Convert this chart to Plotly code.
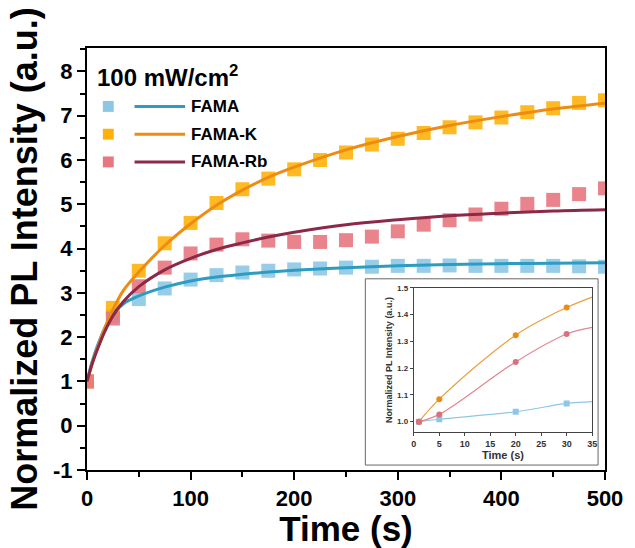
import plotly.graph_objects as go

# ---------------- data ----------------
time_s = [0, 25, 50, 75, 100, 125, 150, 175, 200, 225, 250, 275, 300, 325, 350, 375, 400, 425, 450, 475, 500]
fama = [1.0, 2.48, 2.86, 3.10, 3.30, 3.40, 3.46, 3.50, 3.53, 3.55, 3.57, 3.59, 3.61, 3.61, 3.62, 3.61, 3.61, 3.61, 3.61, 3.60, 3.59]
fama_k = [1.0, 2.66, 3.50, 4.12, 4.58, 5.03, 5.34, 5.58, 5.79, 6.00, 6.17, 6.35, 6.48, 6.61, 6.74, 6.85, 6.96, 7.08, 7.17, 7.29, 7.35]
fama_rb = [1.0, 2.42, 3.15, 3.57, 3.89, 4.09, 4.21, 4.18, 4.15, 4.15, 4.19, 4.27, 4.39, 4.54, 4.64, 4.77, 4.90, 5.01, 5.10, 5.23, 5.36]

fit_t = [0, 5, 10, 17, 25, 35, 50, 75, 100, 125, 150, 175, 200, 250, 300, 350, 400, 450, 500]
fit_fama = [1.0, 1.45, 1.80, 2.20, 2.52, 2.75, 2.93, 3.13, 3.27, 3.36, 3.42, 3.47, 3.51, 3.57, 3.61, 3.64, 3.66, 3.67, 3.68]
fit_k = [1.0, 1.40, 1.75, 2.20, 2.62, 3.05, 3.47, 4.07, 4.56, 4.98, 5.32, 5.61, 5.84, 6.23, 6.53, 6.78, 6.98, 7.15, 7.28]
fit_rb = [1.0, 1.40, 1.72, 2.12, 2.48, 2.80, 3.14, 3.52, 3.78, 3.98, 4.13, 4.26, 4.37, 4.54, 4.65, 4.74, 4.80, 4.85, 4.88]

inset_t = [1, 5, 20, 30]
inset_fama = [1.0, 1.009, 1.037, 1.068]
inset_k = [1.0, 1.084, 1.323, 1.426]
inset_rb = [1.0, 1.027, 1.223, 1.327]
inset_line_t = [1, 5, 20, 30, 35]
inset_line_fama = [1.0, 1.009, 1.037, 1.068, 1.075]
inset_line_k = [1.0, 1.084, 1.323, 1.426, 1.465]
inset_line_rb = [1.0, 1.027, 1.223, 1.327, 1.352]

names = ["FAMA", "FAMA-K", "FAMA-Rb"]
marker_colors = ["#8CC8E6", "#FFB10A", "#E8777F"]
line_colors = ["#2C9CC0", "#EE8C12", "#8C2848"]

x_ticks = [0, 100, 200, 300, 400, 500]
y_ticks = [-1, 0, 1, 2, 3, 4, 5, 6, 7, 8]
y_tick_text = ["-1", "0", "1", "2", "3", "4", "5", "6", "7", "8"]
inset_x_ticks = [0, 5, 10, 15, 20, 25, 30, 35]
inset_y_ticks = [1.0, 1.1, 1.2, 1.3, 1.4, 1.5]

# ---------------- geometry ----------------
W, H = 635, 548
ML, MR, MT, MB = 87, 25, 48, 74
PW, PH = W - ML - MR, H - MT - MB


def px(x):
    return (x - ML) / PW


def py(y):
    return (H - MB - y) / PH


FONT = "Liberation Sans, Arial, sans-serif"

fig = go.Figure()

series = [fama, fama_k, fama_rb]
fits = [fit_fama, fit_k, fit_rb]
for i in range(3):
    fig.add_trace(go.Scatter(x=time_s, y=series[i], mode="markers",
                             marker=dict(symbol="square", size=14, color=marker_colors[i],
                                         opacity=0.9, line=dict(width=0)),
                             showlegend=False, hoverinfo="skip"))
for i in range(3):
    fig.add_trace(go.Scatter(x=fit_t, y=fits[i], mode="lines", line_shape="spline",
                             line=dict(color=line_colors[i], width=3),
                             showlegend=False, hoverinfo="skip"))

# inset
inset_marker_colors = ["#8CC8E6", "#EE8C12", "#D9707F"]
inset_line_colors = ["#8CC8E6", "#E8A040", "#E08890"]
ins_series = [inset_fama, inset_k, inset_rb]
ins_lines = [inset_line_fama, inset_line_k, inset_line_rb]
ins_symbols = ["square", "circle", "circle"]
for i in range(3):
    fig.add_trace(go.Scatter(x=inset_line_t, y=ins_lines[i], mode="lines", line_shape="spline",
                             line=dict(color=inset_line_colors[i], width=1.2),
                             xaxis="x2", yaxis="y2", showlegend=False, hoverinfo="skip"))
    fig.add_trace(go.Scatter(x=inset_t, y=ins_series[i], mode="markers",
                             marker=dict(symbol=ins_symbols[i], size=6, color=inset_marker_colors[i]),
                             xaxis="x2", yaxis="y2", showlegend=False, hoverinfo="skip"))

axis_common = dict(showline=True, linecolor="black", linewidth=2, mirror=True,
                   ticks="outside", ticklen=8, tickwidth=2, tickcolor="black",
                   showgrid=False, zeroline=False)

fig.update_layout(
    width=W, height=H,
    margin=dict(l=ML, r=MR, t=MT, b=MB),
    paper_bgcolor="white", plot_bgcolor="white",
    font=dict(family=FONT, color="black"),
    xaxis=dict(range=[0, 500], tickvals=x_ticks,
               tickfont=dict(size=22, family=FONT, weight="bold"),
               minor=dict(dtick=50, ticks="outside", ticklen=5, tickwidth=2, tickcolor="black"),
               title=dict(text="<b>Time (s)</b>", font=dict(size=35), standoff=0),
               **axis_common),
    yaxis=dict(range=[-1, 8.53], tickvals=y_ticks, ticktext=y_tick_text,
               tickfont=dict(size=22, family=FONT, weight="bold"),
               minor=dict(dtick=0.5, ticks="outside", ticklen=5, tickwidth=2, tickcolor="black"),
               title=dict(text="<b>Normalized PL Intensity (a.u.)</b>", font=dict(size=36), standoff=4),
               **axis_common),
    xaxis2=dict(domain=[px(417), px(597)], anchor="y2", range=[0, 35], tickvals=inset_x_ticks,
                showline=True, linecolor="#444", linewidth=1, mirror=True,
                ticks="outside", ticklen=3, tickcolor="#444",
                tickfont=dict(size=9, color="#333", weight="bold"),
                title=dict(text="<b>Time (s)</b>", font=dict(size=11, color="#333"), standoff=0),
                showgrid=False, zeroline=False),
    yaxis2=dict(domain=[py(436), py(290)], anchor="x2", range=[0.96, 1.5], tickvals=inset_y_ticks,
                tickformat=".1f",
                showline=True, linecolor="#444", linewidth=1, mirror=True,
                ticks="outside", ticklen=3, tickcolor="#444",
                tickfont=dict(size=8, color="#333", weight="bold"),
                title=dict(text="<b>Normalized PL Intensity (a.u.)</b>", font=dict(size=9, color="#333"), standoff=2),
                showgrid=False, zeroline=False),
)

# inset frame (pasted panel border)
fig.add_shape(type="rect", xref="paper", yref="paper",
              x0=px(368), x1=px(603), y0=py(469), y1=py(281),
              line=dict(color="#666", width=1), layer="below")

# legend block
fig.add_annotation(xref="paper", yref="paper", x=px(95), y=py(76), xanchor="left", yanchor="middle",
                   text="<b>100 mW/cm<sup>2</sup></b>", showarrow=False, font=dict(size=24, color="black"))
rows_y = [107, 135, 163]
for i in range(3):
    yy = py(rows_y[i])
    fig.add_shape(type="rect", xref="paper", yref="paper",
                  x0=px(103), x1=px(114), y0=py(rows_y[i] + 5.5), y1=py(rows_y[i] - 5.5),
                  fillcolor=marker_colors[i], line=dict(width=0))
    fig.add_shape(type="line", xref="paper", yref="paper",
                  x0=px(135), x1=px(186), y0=yy, y1=yy,
                  line=dict(color=line_colors[i], width=3))
    fig.add_annotation(xref="paper", yref="paper", x=px(190), y=yy, xanchor="left", yanchor="middle",
                       text="<b>" + names[i] + "</b>", showarrow=False, font=dict(size=17, color="black"))

fig.write_html("out.html")
